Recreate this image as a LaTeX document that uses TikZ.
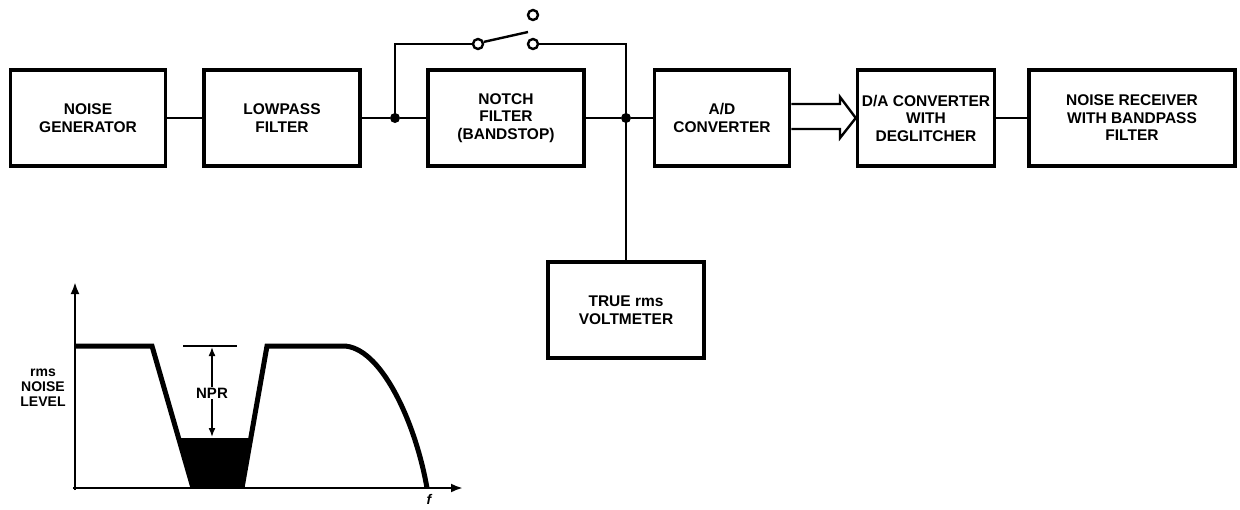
\documentclass[tikz,border=0pt]{standalone}
\usepackage{fontspec}
\setmainfont{Liberation Sans}
\usetikzlibrary{arrows.meta}
\begin{document}
\begin{tikzpicture}[x=1pt,y=-1pt,
  blk/.style={draw,line width=3.5pt,minimum width=#1,minimum height=96pt,inner sep=0pt,align=center,font=\fontsize{15.5}{17.5}\selectfont\bfseries},
  wire/.style={line width=2.4pt},
  dot/.style={circle,fill,inner sep=0pt,minimum size=10pt},
  sw/.style={circle,draw,line width=2.4pt,inner sep=0pt,minimum size=10pt},
  curve/.style={line width=5pt,line join=miter},
  lbl/.style={font=\fontsize{15}{15}\selectfont\bfseries,align=center,inner sep=1pt},
  arr/.style={-{Latex[length=12pt,width=9pt]}}]
\useasboundingbox (0,0) rectangle (1240,509);

% blocks
\node[blk=155pt] (ng) at (88,118) {NOISE\\GENERATOR};
\node[blk=156pt] (lp) at (282,118) {LOWPASS\\FILTER};
\node[blk=156pt] (nf) at (506,118) {NOTCH\\FILTER\\(BANDSTOP)};
\node[blk=135pt] (ad) at (722,118) {A/D\\CONVERTER};
\node[blk=137pt] (da) at (926,118) {D/A CONVERTER\\WITH\\DEGLITCHER};
\node[blk=206pt] (nr) at (1132,118) {NOISE RECEIVER\\WITH BANDPASS\\FILTER};
\node[blk=156pt] (vm) at (626,310) {TRUE rms\\VOLTMETER};

% junctions and switch
\node[dot] (j1) at (395,118) {};
\node[dot] (j2) at (626,118) {};
\node[sw] (s1) at (478,44) {};
\node[sw] (s2) at (533,44) {};
\node[sw] (s3) at (533,15) {};
\coordinate (blade) at (528,32);

% wires
\draw[wire] (ng) -- (lp);
\draw[wire] (lp) -- (j1) -- (nf);
\draw[wire] (nf) -- (j2) -- (ad);
\draw[wire] (j1.center) |- (s1);
\draw[wire] (s2) -| (j2.center);
\draw[wire] (j2.center) -- (vm);
\draw[wire] (s1.20) -- (blade);
\draw[wire] (da) -- (nr);

% wide data arrow
\draw[wire,line join=miter] (ad.east |- 0,104) -- (840,104) -- (840,97) -- (da.west)
  -- (840,138) -- (840,129) -- (ad.east |- 0,129);

% spectrum graph
\coordinate (ytip) at (75,282);
\coordinate (xtip) at (463,488);
\draw[wire,arr] (75,490) -- (ytip);
\draw[wire,arr] (73,488) -- (xtip);
\fill (179,438) -- (251,438) -- (242,488) -- (193,488) -- cycle;
\draw[curve] (75,346) -- (152,346) -- (193,488);
\draw[curve] (242,488) -- (267,346) -- (343,346) .. controls (380,346) and (415,420) .. (427,488);
\draw[line width=1.8pt] (183,346) -- (237,346);
\node[lbl] (npr) at (212,393) {NPR};
\coordinate (nprtop) at (212,347);
\coordinate (nprbot) at (212,437);
\draw[line width=1.6pt,-{Latex[length=9pt,width=7pt]}] (npr.north) -- (nprtop);
\draw[line width=1.6pt,-{Latex[length=9pt,width=7pt]}] (npr.south) -- (nprbot);
\node[font=\fontsize{14}{15}\selectfont\bfseries,align=center,inner sep=0pt] (yl) at (43,388) {rms\\NOISE\\LEVEL};
\node[font=\fontsize{14}{14}\selectfont\bfseries\itshape,inner sep=0pt] (fl) at (429,499) {f};
\end{tikzpicture}
\end{document}
